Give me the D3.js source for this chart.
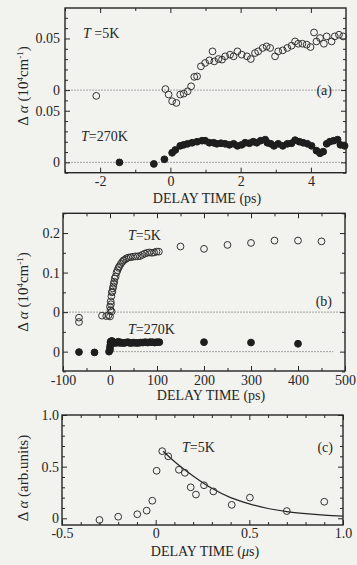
<!DOCTYPE html>
<html><head><meta charset="utf-8">
<script src="https://cdn.jsdelivr.net/npm/d3@7"></script>
<style>
body{margin:0;background:#f2f2ef;}
svg{display:block;}
text{font-family:"Liberation Serif","DejaVu Serif","Times New Roman",serif;fill:#262626;}
</style></head><body>
<svg id="chart" width="357" height="565"></svg>
<script>
// ---------- Panel (a): delay time in ps, short window ----------
const a5kT = [-2.11,-0.14,-0.05,0.05,0.17,0.28,0.38,0.49,0.59,0.68,0.76,0.87,0.99,1.11,1.20,1.25,1.37,1.47,1.56,1.70,1.80,1.91,2.03,2.18,2.29,2.41,2.50,2.63,2.74,2.84,2.98,3.07,3.20,3.33,3.45,3.55,3.64,3.76,3.88,3.99,4.09,4.16,4.26,4.37,4.45,4.59,4.68,4.80,4.92];
const a5kV = [-0.0056,0.001,-0.0043,-0.0108,-0.0124,-0.0043,-0.0034,-0.0012,0.0037,0.0128,0.0133,0.023,0.0263,0.0288,0.0375,0.0278,0.0301,0.0295,0.0327,0.0343,0.0327,0.0375,0.0343,0.0327,0.0301,0.0359,0.0375,0.0408,0.0423,0.0408,0.0327,0.0375,0.0385,0.0408,0.043,0.0471,0.0449,0.0449,0.044,0.0417,0.0558,0.0471,0.0504,0.0449,0.052,0.0471,0.052,0.0536,0.052];
const a270T = [-1.45,-0.47,-0.17,0.05,0.14,0.28,0.38,0.49,0.62,0.76,0.90,0.99,1.11,1.23,1.32,1.44,1.56,1.68,1.80,1.91,2.03,2.13,2.25,2.36,2.46,2.57,2.70,2.76,2.86,2.95,3.07,3.20,3.33,3.45,3.55,3.67,3.78,3.90,4.02,4.16,4.26,4.35,4.45,4.54,4.65,4.76,4.84,4.96];
const a270V = [0,-0.0015,0.003,0.0093,0.012,0.016,0.017,0.018,0.019,0.020,0.021,0.021,0.019,0.019,0.018,0.0185,0.018,0.017,0.018,0.016,0.017,0.019,0.0185,0.020,0.019,0.021,0.022,0.019,0.018,0.016,0.018,0.016,0.018,0.0185,0.0215,0.020,0.019,0.018,0.016,0.0113,0.0088,0.0104,0.018,0.020,0.021,0.022,0.017,0.016];
const aXTicks = [-2,0,2,4];
const aYTicks = [0,0.05];
const aOffset = 0.07;   // vertical shift of the T=5K trace

// ---------- Panel (b): delay time in ps, long window ----------
const b5kT = [-66,-66,-17,-8,-3,0,0,1,1.5,2,3,3.5,4,5,6,7,8,9,10,12,14,16,18,20,23,26,29,32,35,39,44,49,54,59,64,69,74,79,84,89,94,99,104,150,200,250,300,350,400,450];
const b5kV = [-0.014,-0.025,-0.009,-0.01,-0.008,-0.011,0.014,0.005,0.027,0.02,0.04,0.0015,0.05,0.052,0.06,0.065,0.072,0.077,0.085,0.09,0.1,0.106,0.112,0.116,0.122,0.127,0.131,0.133,0.136,0.138,0.139,0.14,0.141,0.141,0.142,0.145,0.148,0.15,0.151,0.15,0.151,0.153,0.153,0.166,0.160,0.170,0.175,0.181,0.181,0.179];
const b270T = [-66,-33,-2,0,0,1,1,2,3,4,5,6,8,10,12,15,18,21,24,27,30,34,38,42,46,50,55,60,65,70,75,80,85,90,95,100,105,200,300,400];
const b270V = [-0.001,-0.002,0.0,0.005,0.012,0.018,0.024,0.026,0.022,0.027,0.025,0.022,0.024,0.023,0.022,0.023,0.025,0.022,0.023,0.022,0.022,0.023,0.024,0.022,0.022,0.023,0.022,0.022,0.023,0.023,0.024,0.023,0.024,0.024,0.023,0.024,0.024,0.024,0.023,0.02];
const bXTicks = [-100,0,100,200,300,400,500];
const bYTicks = [0,0.1,0.2];
const bOffset = 0.1;

// ---------- Panel (c): delay time in microseconds ----------
const cT = [-0.30,-0.20,-0.098,-0.048,-0.018,0.005,0.035,0.067,0.124,0.156,0.187,0.215,0.258,0.308,0.406,0.503,0.70,0.90];
const cV = [-0.016,0.015,0.039,0.074,0.17,0.46,0.65,0.60,0.47,0.44,0.30,0.23,0.32,0.26,0.13,0.20,0.07,0.16];
const cFitT = [0.04,0.1,0.2,0.3,0.4,0.5,0.6,0.7,0.8,0.9,1.0];
const cFitV = [0.65,0.55,0.41,0.29,0.20,0.14,0.095,0.065,0.045,0.03,0.02];
const cXTicks = [-0.5,0,0.5,1.0];
const cXLabels = ["-0.5","0","0.5","1.0"];
const cYTicks = [0,0.5,1.0];
const cYLabels = ["0","0.5","1.0"];

// ---------------------------------------------------------------
const svg = d3.select("#chart");
svg.append("rect").attr("width",357).attr("height",565).attr("fill","#f2f2ef");
const INK = "#262626";
const FS = 14;
const SERIF = '"Liberation Serif","DejaVu Serif",serif';

function frame(g, x, y, opt) {
  const [x0,x1] = x.range(), [y0,y1] = y.range();
  const W = x1 - x0, H = y0 - y1;
  function ax(gen, tr, vals, size, fmt, pad) {
    const a = gen.tickValues(vals).tickSize(size).tickSizeOuter(0).tickPadding(pad);
    a.tickFormat(fmt || (() => ""));
    const s = g.append("g").attr("transform", tr).call(a);
    s.attr("font-family", SERIF);
    s.select(".domain").remove();
    s.selectAll("line").attr("stroke", INK).attr("stroke-width", 1);
    s.selectAll("text").style("font-size", FS + "px").attr("fill", INK).style("font-family", SERIF);
    return s;
  }
  ax(d3.axisBottom(x), `translate(0,${y0})`, opt.xMajor, -5, opt.xFmt, opt.xPad);
  ax(d3.axisBottom(x), `translate(0,${y0})`, opt.xMinor, -3, null, 3);
  ax(d3.axisTop(x), `translate(0,${y1})`, opt.xMajor, -5, null, 3);
  ax(d3.axisTop(x), `translate(0,${y1})`, opt.xMinor, -3, null, 3);
  ax(d3.axisLeft(y), `translate(${x0},0)`, opt.yMajor, -5, opt.yFmt, opt.yPad);
  ax(d3.axisLeft(y), `translate(${x0},0)`, opt.yMinor, -3, null, 3);
  ax(d3.axisRight(y), `translate(${x1},0)`, opt.yMajor, -5, null, 3);
  ax(d3.axisRight(y), `translate(${x1},0)`, opt.yMinor, -3, null, 3);
  g.append("rect").attr("x", x0).attr("y", y1).attr("width", W).attr("height", H)
    .attr("fill", "none").attr("stroke", INK).attr("stroke-width", 1.4);
}

function zeroLine(g, x, y, xa, xb, val) {
  g.append("line").attr("x1", x(xa)).attr("x2", x(xb)).attr("y1", y(val)).attr("y2", y(val))
    .attr("stroke", "#9a9a9a").attr("stroke-width", 0.9).attr("stroke-dasharray", "2,1");
}

function points(g, x, y, T, V, off, filled) {
  g.selectAll(null).data(d3.zip(T, V)).join("circle")
    .attr("cx", d => x(d[0])).attr("cy", d => y(d[1] + off)).attr("r", 3.4)
    .attr("fill", filled ? "#1e1e1e" : "none")
    .attr("stroke", filled ? "#1e1e1e" : "#333").attr("stroke-width", 1);
}

function label(g, xp, yp, parts, anchor, fs) {
  const t = g.append("text").attr("x", xp).attr("y", yp).style("font-size", (fs || FS) + "px")
    .attr("text-anchor", anchor || "start");
  parts.forEach(p => {
    const s = t.append("tspan").text(p.t);
    if (p.i) s.style("font-style", "italic");
    if (p.sup) s.attr("baseline-shift", "super").style("font-size", "9px");
  });
  return t;
}

function yTitle(g, cx, cy, parts) {
  const t = label(g, 0, 0, parts, "middle", 15);
  t.attr("transform", `translate(${cx},${cy}) rotate(-90)`);
}

const fmtNum = d => String(d);
const alphaTitle = [{t:"Δ "}, {t:"α", i:true}, {t:"  (10"}, {t:"4", sup:true}, {t:"cm"}, {t:"-1", sup:true}, {t:")"}];

// ---------- Panel (a) ----------
{
  const g = svg.append("g");
  const x = d3.scaleLinear().domain([-3, 5]).range([65, 346]);
  const y = d3.scaleLinear().domain([-0.0100, 0.1495]).range([172.7, 8]);
  const yMajor = aYTicks.concat(aYTicks.map(v => v + aOffset));
  const yLab = new Map(yMajor.map((v, i) => [v, String(aYTicks[i % aYTicks.length])]));
  const yMinor = d3.range(-0.01, 0.1495, 0.01).filter(v => !yMajor.some(m => Math.abs(m - v) < 1e-6));
  zeroLine(g, x, y, -3, 5, aOffset);
  zeroLine(g, x, y, -3, 5, 0);
  frame(g, x, y, {
    xMajor: aXTicks, xMinor: [-3,-1,1,3], xFmt: fmtNum, xPad: 3,
    yMajor: yMajor, yMinor: yMinor, yFmt: d => yLab.get(d), yPad: 5
  });
  points(g, x, y, a5kT, a5kV, aOffset, false);
  points(g, x, y, a270T, a270V, 0, true);
  label(g, 83, 38, [{t:"T", i:true}, {t:" =5K"}]);
  label(g, 81, 141, [{t:"T", i:true}, {t:"=270K"}]);
  label(g, 332, 95, [{t:"(a)"}], "end");
  label(g, 207, 203, [{t:"DELAY TIME (ps)"}], "middle");
  yTitle(g, 28, 86, alphaTitle);
}

// ---------- Panel (b) ----------
{
  const g = svg.append("g");
  const x = d3.scaleLinear().domain([-100, 500]).range([63, 345]);
  const y = d3.scaleLinear().domain([-0.049, 0.35]).range([371, 213.3]);
  const yMajor = [0, bOffset, bOffset + 0.1, bOffset + 0.2];
  const yLabels = ["0", "0", "0.1", "0.2"];
  const yLab = new Map(yMajor.map((v, i) => [v, yLabels[i]]));
  const yMinor = [-0.05, 0.05, 0.15, 0.25, 0.35];
  zeroLine(g, x, y, -100, 500, bOffset);
  zeroLine(g, x, y, 0, 475, 0);
  frame(g, x, y, {
    xMajor: bXTicks, xMinor: [-50,50,150,250,350,450], xFmt: fmtNum, xPad: 4,
    yMajor: yMajor, yMinor: yMinor, yFmt: d => yLab.get(d), yPad: 3
  });
  points(g, x, y, b5kT, b5kV, bOffset, false);
  points(g, x, y, b270T, b270V, 0, true);
  label(g, 128, 240, [{t:"T", i:true}, {t:"=5K"}]);
  label(g, 128, 334, [{t:"T", i:true}, {t:"=270K"}]);
  label(g, 332, 306, [{t:"(b)"}], "end");
  label(g, 211, 400, [{t:"DELAY TIME  (ps)"}], "middle");
  yTitle(g, 28, 292, alphaTitle);
}

// ---------- Panel (c) ----------
{
  const g = svg.append("g");
  const x = d3.scaleLinear().domain([-0.5, 1.0]).range([62, 343]);
  const y = d3.scaleLinear().domain([-0.065, 1.0]).range([525, 415]);
  const xLab = new Map(cXTicks.map((v, i) => [v, cXLabels[i]]));
  const yLab = new Map(cYTicks.map((v, i) => [v, cYLabels[i]]));
  frame(g, x, y, {
    xMajor: cXTicks, xMinor: d3.range(-0.4, 1.0, 0.1).filter(v => Math.abs(v) > 1e-6 && Math.abs(v - 0.5) > 1e-6),
    xFmt: d => xLab.get(d), xPad: 3,
    yMajor: cYTicks, yMinor: [0.1,0.2,0.3,0.4,0.6,0.7,0.8,0.9], yFmt: d => yLab.get(d), yPad: 3
  });
  const line = d3.line().x(d => x(d[0])).y(d => y(d[1])).curve(d3.curveMonotoneX);
  g.append("path").datum(d3.zip(cFitT, cFitV)).attr("d", line)
    .attr("fill", "none").attr("stroke", INK).attr("stroke-width", 1.2);
  points(g, x, y, cT, cV, 0, false);
  label(g, 182, 452, [{t:"T", i:true}, {t:"=5K"}]);
  label(g, 333, 452, [{t:"(c)"}], "end");
  label(g, 205, 556, [{t:"DELAY TIME ("}, {t:"μ", i:true}, {t:"s)"}], "middle");
  yTitle(g, 28, 478, [{t:"Δ "}, {t:"α", i:true}, {t:"  (arb.units)"}]);
}
</script>
</body></html>
